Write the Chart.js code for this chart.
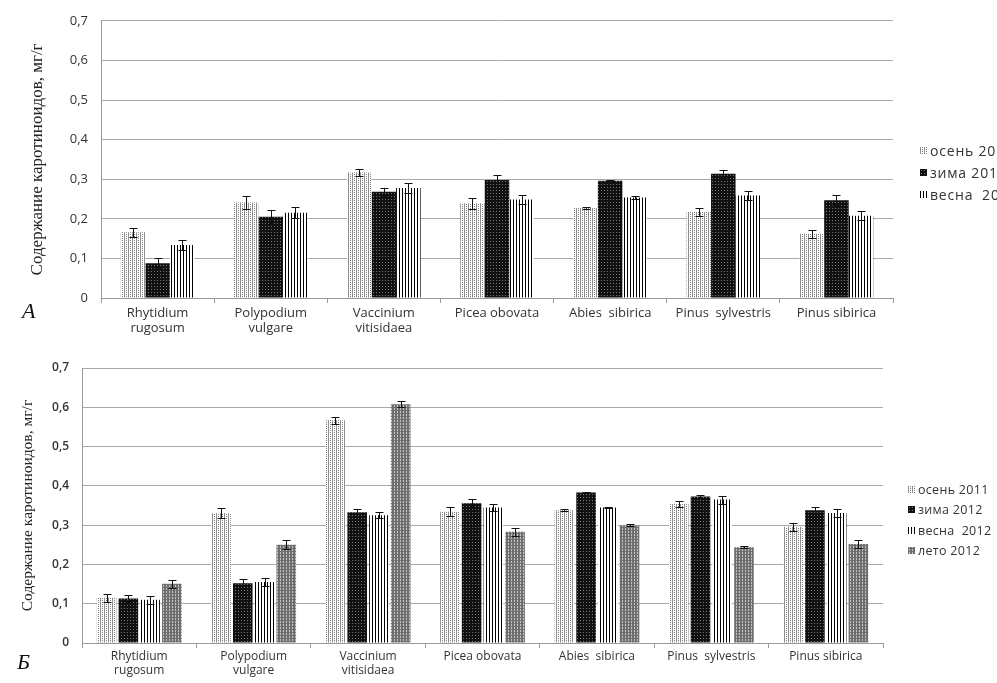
<!DOCTYPE html>
<html lang="ru">
<head>
<meta charset="UTF-8">
<title>Содержание каротиноидов</title>
<script src="https://cdn.jsdelivr.net/npm/chart.js"></script>
<style>
  html, body { margin: 0; padding: 0; width: 997px; height: 683px; overflow: hidden; background: #fff; }
  .box { position: absolute; left: 0; }
  #boxA { top: 0; }
  #boxB { top: 340px; }
  .letter { position: absolute; font-family: 'Liberation Serif', serif; font-style: italic; font-size: 22px; color: #111; line-height: 1; }
  .legend { position: absolute; font-family: 'Open Sans', sans-serif; color: #333; white-space: pre; }
  .legend div { display: flex; align-items: center; }
  .legend canvas { margin-right: 3px; }
</style>
</head>
<body>
<div class="box" id="boxA"><canvas id="chartA" width="900" height="340"></canvas></div>
<div class="box" id="boxB"><canvas id="chartB" width="900" height="343"></canvas></div>
<div class="letter" style="left:22px; top:300px;">А</div>
<div class="letter" style="left:17px; top:651px;">Б</div>
<div class="legend" id="legendA" style="left:920px; top:139px; font-size:14px; letter-spacing:0.8px;"></div>
<div class="legend" id="legendB" style="left:908px; top:479px; font-size:12.5px; letter-spacing:0.3px;"></div>

<script>
  const categories = [
    ['Rhytidium', 'rugosum'], ['Polypodium', 'vulgare'], ['Vaccinium', 'vitisidaea'],
    'Picea obovata', 'Abies  sibirica', 'Pinus  sylvestris', 'Pinus sibirica'
  ];
  const seasons = ['осень 2011', 'зима 2012', 'весна  2012', 'лето 2012'];
  const yTickLabels = ['0', '0,1', '0,2', '0,3', '0,4', '0,5', '0,6', '0,7'];

  // А
  const autumnA = [0.166, 0.241, 0.317, 0.239, 0.227, 0.217, 0.162];
  const winterA = [0.088, 0.205, 0.268, 0.298, 0.296, 0.314, 0.247];
  const springA = [0.134, 0.215, 0.278, 0.249, 0.254, 0.259, 0.208];
  const autumnErrA = [0.011, 0.016, 0.010, 0.013, 0.002, 0.010, 0.010];
  const winterErrA = [0.012, 0.017, 0.010, 0.013, 0.001, 0.010, 0.012];
  const springErrA = [0.012, 0.014, 0.012, 0.012, 0.003, 0.012, 0.012];

  // Б
  const autumnB = [0.115, 0.331, 0.567, 0.334, 0.338, 0.354, 0.296];
  const winterB = [0.113, 0.152, 0.333, 0.356, 0.383, 0.373, 0.338];
  const springB = [0.110, 0.155, 0.325, 0.345, 0.345, 0.365, 0.331];
  const summerB = [0.151, 0.250, 0.608, 0.283, 0.300, 0.244, 0.252];
  const autumnErrB = [0.010, 0.012, 0.009, 0.011, 0.002, 0.008, 0.010];
  const winterErrB = [0.008, 0.012, 0.009, 0.011, 0.002, 0.003, 0.008];
  const springErrB = [0.010, 0.010, 0.008, 0.010, 0.002, 0.010, 0.010];
  const summerErrB = [0.010, 0.012, 0.008, 0.011, 0.002, 0.002, 0.010];

  function makeTile(kind) {
    const c = document.createElement('canvas');
    const g = c.getContext('2d');
    const px = (x, y, col) => { g.fillStyle = col; g.fillRect(x, y, 1, 1); };
    if (kind === 'autumn') {
      c.width = 4; c.height = 4;
      g.fillStyle = '#fff'; g.fillRect(0, 0, 4, 4);
      g.fillStyle = '#8e8e8e'; g.fillRect(0, 0, 1, 4);
      px(2, 0, '#777'); px(2, 2, '#777');
    } else if (kind === 'winter') {
      c.width = 3; c.height = 3;
      g.fillStyle = '#111'; g.fillRect(0, 0, 3, 3);
      px(1, 1, '#777');
    } else if (kind === 'spring') {
      c.width = 3; c.height = 1;
      g.fillStyle = '#fff'; g.fillRect(0, 0, 3, 1);
      px(0, 0, '#000');
    } else {
      c.width = 3; c.height = 3;
      g.fillStyle = '#6e6e6e'; g.fillRect(0, 0, 3, 3);
      px(1, 0, '#c4c4c4'); px(1, 2, '#c4c4c4');
    }
    return c;
  }

  function pattern(ctx, kind) {
    return ctx.createPattern(makeTile(kind), 'repeat');
  }

  const errorBars = {
    id: 'errorBars',
    afterDatasetsDraw(chart) {
      const ctx = chart.ctx, y = chart.scales.y;
      ctx.save();
      ctx.strokeStyle = '#111';
      ctx.lineWidth = 1;
      chart.data.datasets.forEach((ds, di) => {
        chart.getDatasetMeta(di).data.forEach((bar, i) => {
          const x = Math.round(bar.x) + 0.5;
          const y1 = Math.round(y.getPixelForValue(ds.data[i] + ds.errors[i])) + 0.5;
          const y2 = Math.round(y.getPixelForValue(ds.data[i] - ds.errors[i])) + 0.5;
          ctx.beginPath();
          ctx.moveTo(x, y1); ctx.lineTo(x, y2);
          ctx.moveTo(x - 4, y1); ctx.lineTo(x + 4, y1);
          ctx.moveTo(x - 4, y2); ctx.lineTo(x + 4, y2);
          ctx.stroke();
        });
      });
      ctx.restore();
    }
  };

  function buildChart(id, series, cfg) {
    const ctx = document.getElementById(id).getContext('2d');
    return new Chart(ctx, {
      type: 'bar',
      data: {
        labels: categories,
        datasets: series.map(s => ({
          label: s.label, data: s.data, errors: s.errors,
          backgroundColor: pattern(ctx, s.kind), borderWidth: 0,
          categoryPercentage: cfg.catPct, barPercentage: cfg.barPct
        }))
      },
      options: {
        responsive: false,
        animation: false,
        layout: { padding: cfg.padding },
        plugins: { legend: { display: false }, tooltip: { enabled: false } },
        scales: {
          x: {
            grid: { drawOnChartArea: false, color: '#999', tickLength: 5 },
            border: { color: '#999' },
            ticks: {
              color: '#333', padding: cfg.xPad, maxRotation: 0, autoSkip: false,
              font: { family: 'Open Sans', size: cfg.xFont, lineHeight: 1.16 }
            },
            afterFit: s => { s.height = cfg.xHeight; }
          },
          y: {
            min: 0, max: 0.7,
            grid: { color: '#aaa', drawTicks: false },
            border: { color: '#999' },
            ticks: {
              stepSize: 0.1, padding: 13, color: '#333',
              font: { family: 'Open Sans', size: cfg.yFont, weight: cfg.yWeight },
              callback: (v, i) => yTickLabels[i]
            },
            title: {
              display: true, text: 'Содержание каротиноидов, мг/г', color: '#222',
              font: { family: 'Liberation Serif', size: cfg.titleFont },
              padding: { top: cfg.titlePad, bottom: 0 }
            },
            afterFit: s => { s.width = cfg.yWidth; }
          }
        }
      },
      plugins: [errorBars]
    });
  }

  buildChart('chartA', [
    { label: seasons[0], data: autumnA, errors: autumnErrA, kind: 'autumn' },
    { label: seasons[1], data: winterA, errors: winterErrA, kind: 'winter' },
    { label: seasons[2], data: springA, errors: springErrA, kind: 'spring' }
  ], {
    catPct: 0.65, barPct: 1.0, padding: { top: 11, right: 7, left: 0, bottom: 0 },
    xHeight: 42, yWidth: 101, xPad: 3, xFont: 13, yFont: 13, yWeight: 'normal',
    titleFont: 17, titlePad: 27
  });

  buildChart('chartB', [
    { label: seasons[0], data: autumnB, errors: autumnErrB, kind: 'autumn' },
    { label: seasons[1], data: winterB, errors: winterErrB, kind: 'winter' },
    { label: seasons[2], data: springB, errors: springErrB, kind: 'spring' },
    { label: seasons[3], data: summerB, errors: summerErrB, kind: 'summer' }
  ], {
    catPct: 0.76, barPct: 0.9, padding: { top: 28, right: 17, left: 0, bottom: 0 },
    xHeight: 40, yWidth: 82, xPad: 2, xFont: 12, yFont: 12, yWeight: '600',
    titleFont: 15.5, titlePad: 19
  });

  function buildLegend(id, kinds, rowH) {
    const box = document.getElementById(id);
    kinds.forEach((k, i) => {
      const row = document.createElement('div');
      row.style.height = rowH + 'px';
      const sw = document.createElement('canvas');
      sw.width = 7; sw.height = 7;
      const g = sw.getContext('2d');
      g.fillStyle = g.createPattern(makeTile(k), 'repeat');
      g.fillRect(0, 0, 7, 7);
      row.appendChild(sw);
      row.appendChild(document.createTextNode(seasons[i]));
      box.appendChild(row);
    });
  }

  buildLegend('legendA', ['autumn', 'winter', 'spring'], 22);
  buildLegend('legendB', ['autumn', 'winter', 'spring', 'summer'], 20.5);
</script>
</body>
</html>
